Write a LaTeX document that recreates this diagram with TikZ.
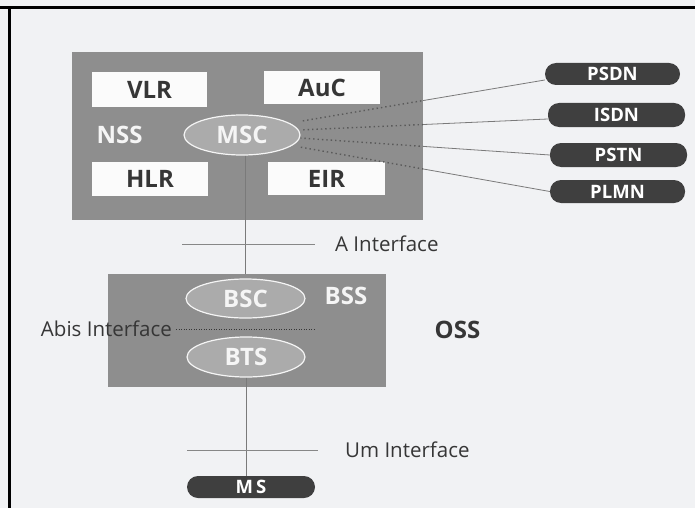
\documentclass[tikz,border=0pt]{standalone}
\usepackage{fontspec}
\setmainfont{Open Sans}
\usetikzlibrary{shapes.geometric}
\definecolor{bg}{HTML}{F1F2F4}
\definecolor{boxgray}{HTML}{8E8E8E}
\definecolor{ellgray}{HTML}{ABABAB}
\definecolor{darkov}{HTML}{3F3F3F}
\definecolor{linegray}{HTML}{7A7A7A}
\definecolor{dotgray}{HTML}{5A5A5A}
\definecolor{txtdark}{HTML}{363636}
\tikzset{
  subsys/.style={fill=boxgray, draw=none, inner sep=0pt},
  whitebox/.style={fill=white!97!gray, draw=none, inner sep=0pt, text=txtdark, font=\bfseries\fontsize{24}{24}\selectfont},
  lightell/.style={ellipse, fill=ellgray, draw=white!92!gray, line width=1.2pt, inner sep=0pt, text=white!92!gray, font=\bfseries\fontsize{24}{24}\selectfont},
  darkoval/.style={fill=darkov, draw=none, inner sep=0pt, rounded corners=11pt, text=white, font=\bfseries\fontsize{18.5}{18.5}\selectfont},
  lbl/.style={text=txtdark, font=\fontsize{20.5}{20.5}\selectfont, inner sep=0pt},
  conn/.style={draw=linegray, line width=0.8pt},
  dotconn/.style={draw=dotgray, line width=1.4pt, dash pattern=on 1.4pt off 3pt},
}
\begin{document}
\begin{tikzpicture}[x=1pt,y=-1pt]
\useasboundingbox (0,0) rectangle (695,508);
\fill[bg] (0,0) rectangle (695,508);
\draw[line width=3pt] (0,8) -- (695,8);
\draw[line width=3pt] (9,8) -- (9,508);

% NSS
\node[subsys, minimum width=351pt, minimum height=168pt] (NSS) at (247.5,136) {};
\node[whitebox, minimum width=115pt, minimum height=35pt] (VLR) at (149.5,89.5) {VLR};
\node[whitebox, minimum width=116pt, minimum height=33pt] (AuC) at (322,87.5) {AuC};
\node[whitebox, minimum width=116pt, minimum height=34pt] (HLR) at (150,179) {HLR};
\node[whitebox, minimum width=117pt, minimum height=33pt] (EIR) at (326.5,178.5) {EIR};
\node[lightell, minimum width=116pt, minimum height=40pt] (MSC) at (242,135) {MSC};
\node[text=white!92!gray, font=\bfseries\fontsize{24}{24}\selectfont, inner sep=0pt] (NSSl) at (119.5,135) {NSS};

% outer networks
\node[darkoval, minimum width=135pt, minimum height=22pt] (PSDN) at (612.5,74) {PSDN};
\node[darkoval, minimum width=137pt, minimum height=24pt] (ISDN) at (616.5,115) {ISDN};
\node[darkoval, minimum width=137pt, minimum height=24pt] (PSTN) at (618.5,155) {PSTN};
\node[darkoval, minimum width=135pt, minimum height=23pt] (PLMN) at (617.5,191.5) {PLMN};

\coordinate (ePSDN) at ([yshift=-6pt]PSDN.west);
\coordinate (eISDN) at ([yshift=-4pt]ISDN.west);
\coordinate (ePSTN) at (PSTN.west);
\coordinate (ePLMN) at (PLMN.west);

% connectors MSC -> networks: dotted inside NSS box, solid outside
\begin{scope}
  \clip (MSC.east |- NSS.north) rectangle (NSS.south east);
  \draw[dotconn] (MSC.14) -- (ePSDN);
  \draw[dotconn] (MSC.5) -- (eISDN);
  \draw[dotconn] (MSC.-3) -- (ePSTN);
  \draw[dotconn] (MSC.-12) -- (ePLMN);
\end{scope}
\begin{scope}
  \clip (NSS.north east) rectangle (PLMN.east |- NSS.south);
  \draw[conn] (MSC.14) -- (ePSDN);
  \draw[conn] (MSC.5) -- (eISDN);
  \draw[conn] (MSC.-3) -- (ePSTN);
  \draw[conn] (MSC.-12) -- (ePLMN);
\end{scope}

% BSS
\node[subsys, minimum width=278pt, minimum height=113pt] (BSS) at (247,330.5) {};
\node[lightell, minimum width=119pt, minimum height=39pt] (BSC) at (245.5,298.5) {BSC};
\node[lightell, minimum width=118pt, minimum height=40pt] (BTS) at (246,357) {BTS};
\node[text=white!92!gray, font=\bfseries\fontsize{24}{24}\selectfont, inner sep=0pt] (BSSl) at (346,296) {BSS};
\node[text=txtdark, font=\bfseries\fontsize{24}{24}\selectfont, inner sep=0pt] (OSS) at (457.5,330) {OSS};

% vertical links
\draw[conn] (MSC.south -| BSC.center) -- (BSS.north -| BSC.center);
\draw[conn] (BTS.south) -- (BTS.south |- 0,476);

% A interface
\coordinate (aL) at (182,244);
\coordinate (aR) at (315,244);
\draw[conn, draw=linegray!90] (aL) -- (aR);
\node[lbl, anchor=west] (Al) at (335,244) {A Interface};

% Abis interface
\node[lbl, anchor=east] (Abl) at (172,329) {Abis Interface};
\coordinate (abR) at (315,329);
\draw[draw=txtdark, line width=0.9pt, dash pattern=on 1pt off 1.5pt] ([xshift=4pt]Abl.east) -- (abR);

% Um interface
\coordinate (uL) at (187,450);
\coordinate (uR) at (318,450);
\draw[conn, draw=linegray!90] (uL) -- (uR);
\node[lbl, anchor=west] (Uml) at (345,450) {Um Interface};

% MS
\node[darkoval, minimum width=128pt, minimum height=22pt] (MS) at (251,487) {M\,S};
\end{tikzpicture}
\end{document}
